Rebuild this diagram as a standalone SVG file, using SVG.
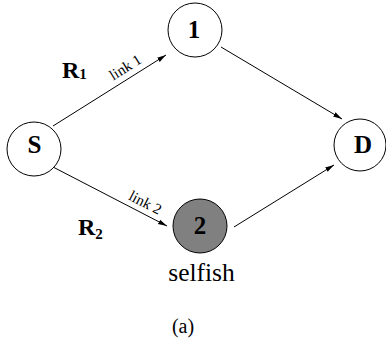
<svg xmlns="http://www.w3.org/2000/svg" width="386" height="346" viewBox="0 0 386 346">
<style>
.node{fill:#fff;stroke:#000;stroke-width:1}
.gray{fill:#808080}
.lbl{font-weight:bold;font-size:25px;text-anchor:middle;fill:#000}
.edge{stroke:#000;stroke-width:1;fill:none;marker-end:url(#arr)}
.link{font-size:15px;text-anchor:middle;fill:#000}
.rate{font-weight:bold;font-size:24px;fill:#000}
.sub{font-size:15px}
.cap{fill:#000;text-anchor:middle}
</style>
<defs>
<marker id="arr" markerUnits="userSpaceOnUse" markerWidth="12" markerHeight="8" refX="9" refY="3" orient="auto">
<path d="M0,0.5 L9,3 L0,5.5 Z" fill="#000"/>
</marker>
</defs>
<g font-family="'Liberation Serif', 'Times New Roman', 'DejaVu Serif', serif">
<g id="connectors">
<line class="edge" x1="53" y1="126" x2="166" y2="55"/>
<line class="edge" x1="221" y1="47" x2="342" y2="119"/>
<line class="edge" x1="53" y1="167" x2="167" y2="226"/>
<line class="edge" x1="234" y1="227" x2="334" y2="165"/>
<text class="link" transform="translate(128,71.5) rotate(-32)">link 1</text>
<text class="link" transform="translate(143,207) rotate(27.4)">link 2</text>
<text class="rate" x="62" y="78">R<tspan class="sub" dy="1">1</tspan></text>
<text class="rate" x="78" y="235">R<tspan class="sub" dy="4">2</tspan></text>
</g>
<g id="node-S">
<circle class="node" cx="34" cy="149" r="27"/>
<text class="lbl" x="34.5" y="153">S</text>
</g>
<g id="node-1">
<circle class="node" cx="195" cy="30" r="27"/>
<text class="lbl" x="194" y="38">1</text>
</g>
<g id="node-2">
<circle class="node gray" cx="200" cy="226" r="27"/>
<text class="lbl" x="200" y="234">2</text>
<text class="cap" x="201.5" y="281" font-size="25.5">selfish</text>
</g>
<g id="node-D">
<circle class="node" cx="360" cy="145" r="26"/>
<text class="lbl" x="363" y="153">D</text>
</g>
<text class="cap" x="183" y="333" font-size="20">(a)</text>
</g>
</svg>
